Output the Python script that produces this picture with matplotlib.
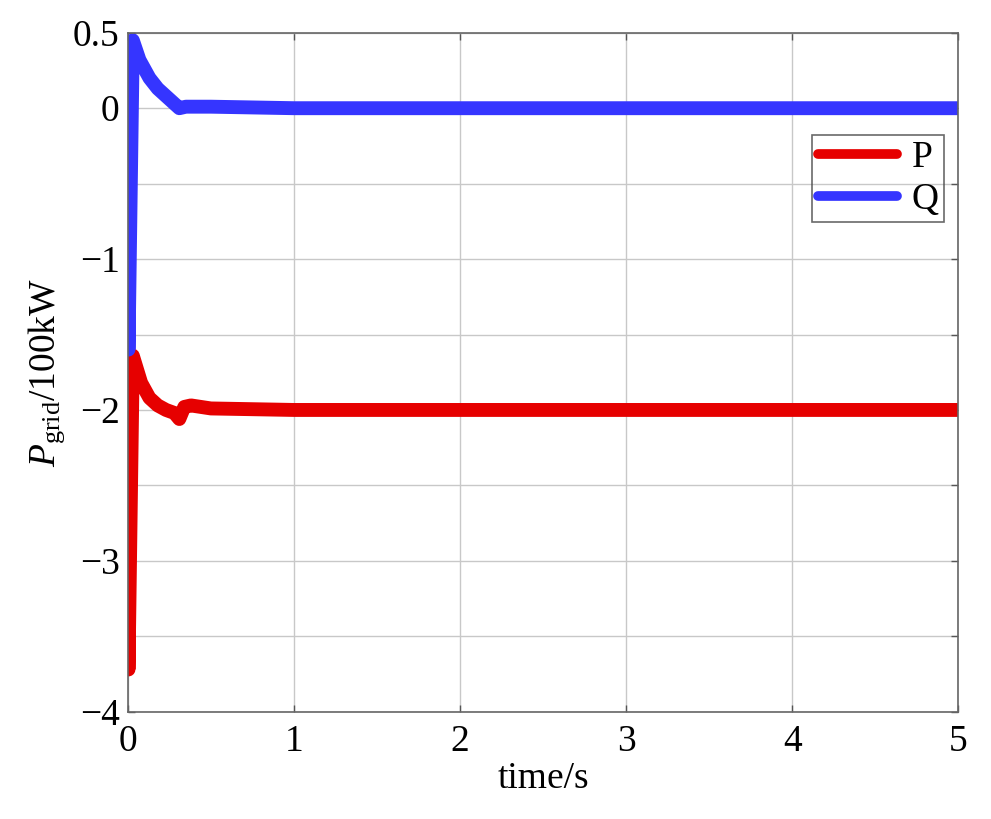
import numpy as np
from matplotlib import pyplot as plt

# values (time in s, power in 100 kW)
t_p = [0.0, 0.004, 0.03, 0.08, 0.13, 0.18, 0.23, 0.28, 0.31, 0.34, 0.38, 0.5, 1.0, 2.0, 3.0, 4.0, 5.0]
p_vals = [0.0, -3.72, -1.64, -1.82, -1.92, -1.97, -2.0, -2.02, -2.06, -1.98, -1.97, -1.99, -2.0, -2.0, -2.0, -2.0, -2.0]

t_q = [0.0, 0.004, 0.03, 0.07, 0.13, 0.18, 0.23, 0.28, 0.31, 0.35, 0.5, 1.0, 2.0, 3.0, 4.0, 5.0]
q_vals = [0.25, -1.6, 0.45, 0.32, 0.2, 0.13, 0.08, 0.03, 0.0, 0.01, 0.01, 0.0, 0.0, 0.0, 0.0, 0.0]

x_ticks = [0, 1, 2, 3, 4, 5]
y_ticks = np.arange(-4.0, 0.51, 0.5)
y_labelled = {0.5: '0.5', 0.0: '0', -1.0: '\u22121', -2.0: '\u22122', -3.0: '\u22123', -4.0: '\u22124'}

plt.rcParams['font.family'] = ['Liberation Serif', 'DejaVu Serif']
plt.rcParams['mathtext.fontset'] = 'custom'
plt.rcParams['mathtext.rm'] = 'Liberation Serif'
plt.rcParams['mathtext.it'] = 'Liberation Serif:italic'

fig = plt.figure(figsize=(9.91, 8.19), dpi=100)
ax = fig.add_axes([0.129, 0.131, 0.838, 0.829])

ax.plot(t_p, p_vals, color='#e60000', lw=10, label='P', solid_capstyle='round', solid_joinstyle='round')
ax.plot(t_q, q_vals, color='#3535ff', lw=10, label='Q', solid_capstyle='round', solid_joinstyle='round')

ax.set_xlim(0, 5)
ax.set_ylim(-4, 0.5)
ax.set_xticks(x_ticks)
ax.set_yticks(y_ticks)
# only some of the half-step ticks carry a label
ax.set_yticklabels([y_labelled.get(round(v, 1), '') for v in y_ticks])
ax.grid(True, color='#c8c8c8', lw=1.0)
ax.tick_params(direction='in', top=True, right=True, length=5, width=1, color='#555555',
               labelsize=27, pad=9)
ax.tick_params(axis='y', pad=6)
for s in ax.spines.values():
    s.set_color('#666666')
    s.set_linewidth(1.2)

ax.set_xlabel('time/s', fontsize=27, labelpad=2)
ax.set_ylabel(r'$P_{\mathrm{grid}}$/100kW', fontsize=27, labelpad=4)

leg = ax.legend(loc='upper right', bbox_to_anchor=(0.983, 0.85), fontsize=27,
                fancybox=False, edgecolor='#444444',
                handlelength=2.1, handletextpad=0.4, labelspacing=0.2,
                borderpad=0.15, borderaxespad=0)
leg.get_frame().set_facecolor('none')
leg.get_frame().set_linewidth(1.2)
for h in leg.get_lines():
    h.set_linewidth(7)

fig.savefig('out.png', dpi=100)
